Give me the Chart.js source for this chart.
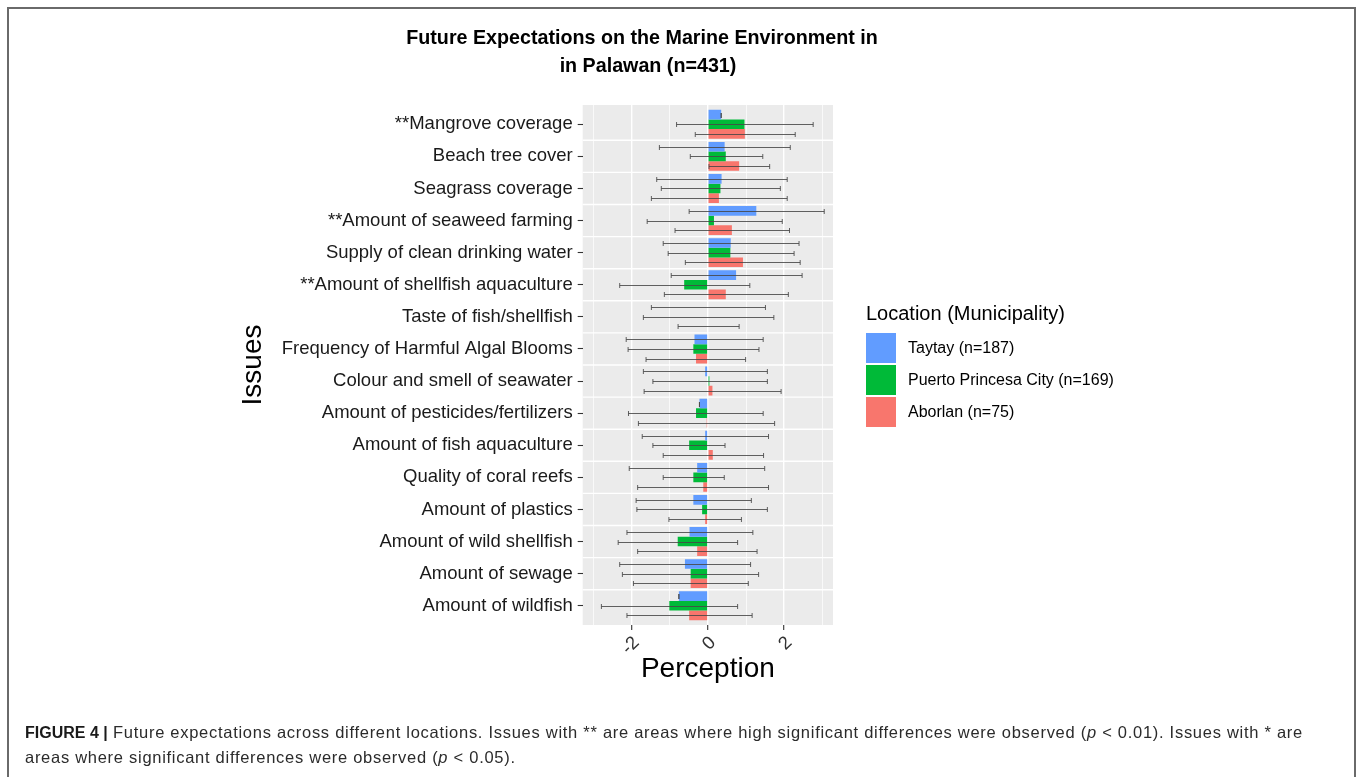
<!DOCTYPE html>
<html>
<head>
<meta charset="utf-8">
<script src="https://cdn.jsdelivr.net/npm/chart.js@4.4.1/dist/chart.umd.min.js"></script>
<style>
html,body{margin:0;padding:0;background:#fff;}
body{width:1358px;height:777px;position:relative;overflow:hidden;font-family:"Liberation Sans",Arial,sans-serif;}
#frame{position:absolute;left:7px;top:7px;width:1349px;height:800px;border:2px solid #6a6a6a;border-bottom:none;box-sizing:border-box;}
#c{position:absolute;left:0;top:0;}
.t{position:absolute;width:800px;text-align:center;font-weight:bold;font-size:19.7px;color:#000;line-height:24px;white-space:nowrap;}
#legend{position:absolute;left:866px;top:300px;color:#000;}
.lt{position:absolute;left:0;top:0;font-size:20px;line-height:26px;white-space:nowrap;}
.sw{position:absolute;left:0;width:30px;height:30px;}
.ll{position:absolute;left:42px;font-size:16px;line-height:20px;white-space:nowrap;}
.cap{position:absolute;left:25px;font-size:16.5px;line-height:20px;letter-spacing:0.72px;color:#2b2b2b;white-space:nowrap;}
.cap b{font-size:16px;letter-spacing:0;color:#1a1a1a;}
</style>
</head>
<body>
<div id="frame"></div>
<canvas id="c" width="1358" height="777"></canvas>
<div class="t" style="left:242px;top:25px;">Future Expectations on the Marine Environment in</div>
<div class="t" style="left:248px;top:53px;">in Palawan (n=431)</div>
<div id="legend"></div>
<div class="cap" style="top:722px;"><b>FIGURE 4 |</b> Future expectations across different locations. Issues with ** are areas where high significant differences were observed (<i>p</i>&nbsp;&lt; 0.01). Issues with * are</div>
<div class="cap" style="top:747px;">areas where significant differences were observed (<i>p</i>&nbsp;&lt; 0.05).</div>
<script>
// ---- data ----
const categories = [
  "**Mangrove coverage",
  "Beach tree cover",
  "Seagrass coverage",
  "**Amount of seaweed farming",
  "Supply of clean drinking water",
  "**Amount of shellfish aquaculture",
  "Taste of fish/shellfish",
  "Frequency of Harmful Algal Blooms",
  "Colour and smell of seawater",
  "Amount of pesticides/fertilizers",
  "Amount of fish aquaculture",
  "Quality of coral reefs",
  "Amount of plastics",
  "Amount of wild shellfish",
  "Amount of sewage",
  "Amount of wildfish"
];
const seriesNames = ["Taytay (n=187)", "Puerto Princesa City (n=169)", "Aborlan (n=75)"];
const seriesColors = ["#619CFF", "#00BA38", "#F8766D"];

const taytayMean  = [0.35, 0.44, 0.36, 1.27, 0.60, 0.74, 0.00, -0.35, -0.07, -0.22, -0.07, -0.28, -0.38, -0.48, -0.60, -0.76];
const taytayLow   = [0.35, -1.27, -1.34, -0.49, -1.17, -0.96, -1.48, -2.14, -1.69, -0.22, -1.72, -2.06, -1.88, -2.12, -2.31, -0.76];
const taytayHigh  = [0.35, 2.16, 2.08, 3.05, 2.39, 2.47, 1.51, 1.45, 1.56, -0.22, 1.59, 1.49, 1.14, 1.18, 1.12, -0.76];

const puertoMean  = [0.96, 0.47, 0.33, 0.16, 0.59, -0.62, 0.00, -0.38, 0.04, -0.31, -0.49, -0.38, -0.15, -0.79, -0.45, -1.01];
const puertoLow   = [-0.82, -0.46, -1.22, -1.59, -1.04, -2.31, -1.69, -2.09, -1.44, -2.08, -1.44, -1.17, -1.86, -2.35, -2.24, -2.79];
const puertoHigh  = [2.76, 1.44, 1.90, 1.95, 2.26, 1.10, 1.73, 1.34, 1.56, 1.45, 0.45, 0.43, 1.56, 0.78, 1.33, 0.78];

const aborlanMean = [0.97, 0.82, 0.29, 0.63, 0.92, 0.47, 0.00, -0.31, 0.12, -0.03, 0.13, -0.12, -0.07, -0.28, -0.45, -0.49];
const aborlanLow  = [-0.33, 0.03, -1.48, -0.86, -0.59, -1.14, -0.78, -1.62, -1.67, -1.82, -1.17, -1.84, -1.02, -1.84, -1.95, -2.12];
const aborlanHigh = [2.29, 1.62, 2.08, 2.14, 2.42, 2.11, 0.82, 0.99, 1.92, 1.75, 1.46, 1.59, 0.88, 1.29, 1.06, 1.16];

const xTickLabels = {"-2": "-2", "0": "0", "2": "2"};

const means = [taytayMean, puertoMean, aborlanMean];
const lows  = [taytayLow, puertoLow, aborlanLow];
const highs = [taytayHigh, puertoHigh, aborlanHigh];

// ---- legend (HTML) ----
(function(){
  const lg = document.getElementById('legend');
  let h = '<div class="lt">Location (Municipality)</div>';
  seriesNames.forEach((n, i) => {
    const top = 33 + i * 32;
    h += '<div class="sw" style="top:' + top + 'px;background:' + seriesColors[i] + '"></div>';
    h += '<div class="ll" style="top:' + (top + 5) + 'px">' + n + '</div>';
  });
  lg.innerHTML = h;
})();

// ---- plugins ----
const panelPlugin = {
  id: 'panel',
  beforeDraw(chart) {
    const {ctx, chartArea: a} = chart;
    ctx.save();
    ctx.fillStyle = '#EBEBEB';
    ctx.fillRect(a.left, a.top, a.right - a.left, a.bottom - a.top);
    ctx.restore();
  },
  beforeDatasetsDraw(chart) {
    const {ctx, chartArea: a} = chart;
    const ys = chart.scales.y;
    ctx.save();
    ctx.strokeStyle = '#FFFFFF';
    ctx.lineWidth = 1.4;
    for (let i = 0; i < categories.length - 1; i++) {
      const py = ys.getPixelForValue(i + 0.5);
      ctx.beginPath();
      ctx.moveTo(a.left, py);
      ctx.lineTo(a.right, py);
      ctx.stroke();
    }
    ctx.restore();
  },
  afterDatasetsDraw(chart) {
    const {ctx} = chart;
    const xs = chart.scales.x;
    ctx.save();
    ctx.strokeStyle = 'rgba(70,70,70,0.85)';
    ctx.lineWidth = 1;
    for (let d = 0; d < 3; d++) {
      const meta = chart.getDatasetMeta(d);
      meta.data.forEach((bar, i) => {
        const y = Math.round(bar.y) + 0.5;
        const x1 = xs.getPixelForValue(lows[d][i]);
        const x2 = xs.getPixelForValue(highs[d][i]);
        ctx.beginPath();
        ctx.moveTo(x1, y); ctx.lineTo(x2, y);
        ctx.moveTo(x1, y - 2.5); ctx.lineTo(x1, y + 2.5);
        ctx.moveTo(x2, y - 2.5); ctx.lineTo(x2, y + 2.5);
        ctx.stroke();
      });
    }
    ctx.restore();
  }
};

const datasets = seriesNames.map((n, d) => ({
  label: n,
  data: means[d].map((v, i) => ({x: v, y: i})),
  backgroundColor: seriesColors[d],
  borderWidth: 0,
  barPercentage: 1.0,
  categoryPercentage: 0.9
}));

new Chart(document.getElementById('c'), {
  type: 'bar',
  data: { datasets },
  plugins: [panelPlugin],
  options: {
    responsive: false,
    animation: false,
    indexAxis: 'y',
    layout: { padding: { left: 230, top: 105, right: 525, bottom: 87 } },
    plugins: { legend: { display: false }, tooltip: { enabled: false } },
    scales: {
      x: {
        type: 'linear',
        min: -3.28, max: 3.28,
        offset: false,
        afterFit(s) { s.height = 65; },
        border: { display: false },
        grid: {
          offset: false,
          color: '#FFFFFF',
          lineWidth: c => (c.tick && Math.abs(c.tick.value) % 2 === 0) ? 1.4 : 0.7,
          drawTicks: true,
          tickLength: 5,
          tickColor: c => (c.tick && Math.abs(c.tick.value) % 2 === 0) ? '#333333' : 'rgba(0,0,0,0)',
          tickWidth: 1.1
        },
        ticks: {
          stepSize: 1,
          includeBounds: false,
          maxTicksLimit: 50,
          autoSkip: false,
          minRotation: 45, maxRotation: 45,
          padding: 2,
          labelOffset: 5,
          color: '#333333',
          font: { family: '"Liberation Sans", Arial, sans-serif', size: 18.5 },
          callback: v => xTickLabels[String(v)] || ''
        },
        title: {
          display: true, text: 'Perception', color: '#000',
          font: { family: '"Liberation Sans", Arial, sans-serif', size: 28 },
          padding: { top: 0, bottom: 4 }
        }
      },
      y: {
        type: 'linear',
        min: -0.6, max: 15.6,
        reverse: true,
        offset: false,
        afterFit(s) { s.width = 352.7; },
        border: { display: false },
        grid: {
          offset: false,
          drawOnChartArea: false,
          drawTicks: true,
          tickLength: 5,
          tickColor: '#333333',
          tickWidth: 1.1
        },
        ticks: {
          stepSize: 1,
          includeBounds: false,
          maxTicksLimit: 50,
          autoSkip: false,
          padding: 5,
          color: '#1a1a1a',
          font: { family: '"Liberation Sans", Arial, sans-serif', size: 18.5 },
          callback: v => categories[v] !== undefined ? categories[v] : ''
        },
        title: {
          display: true, text: 'Issues', color: '#000',
          font: { family: '"Liberation Sans", Arial, sans-serif', size: 28 },
          padding: { top: 6, bottom: 0 }
        }
      }
    }
  }
});
</script>
</body>
</html>
